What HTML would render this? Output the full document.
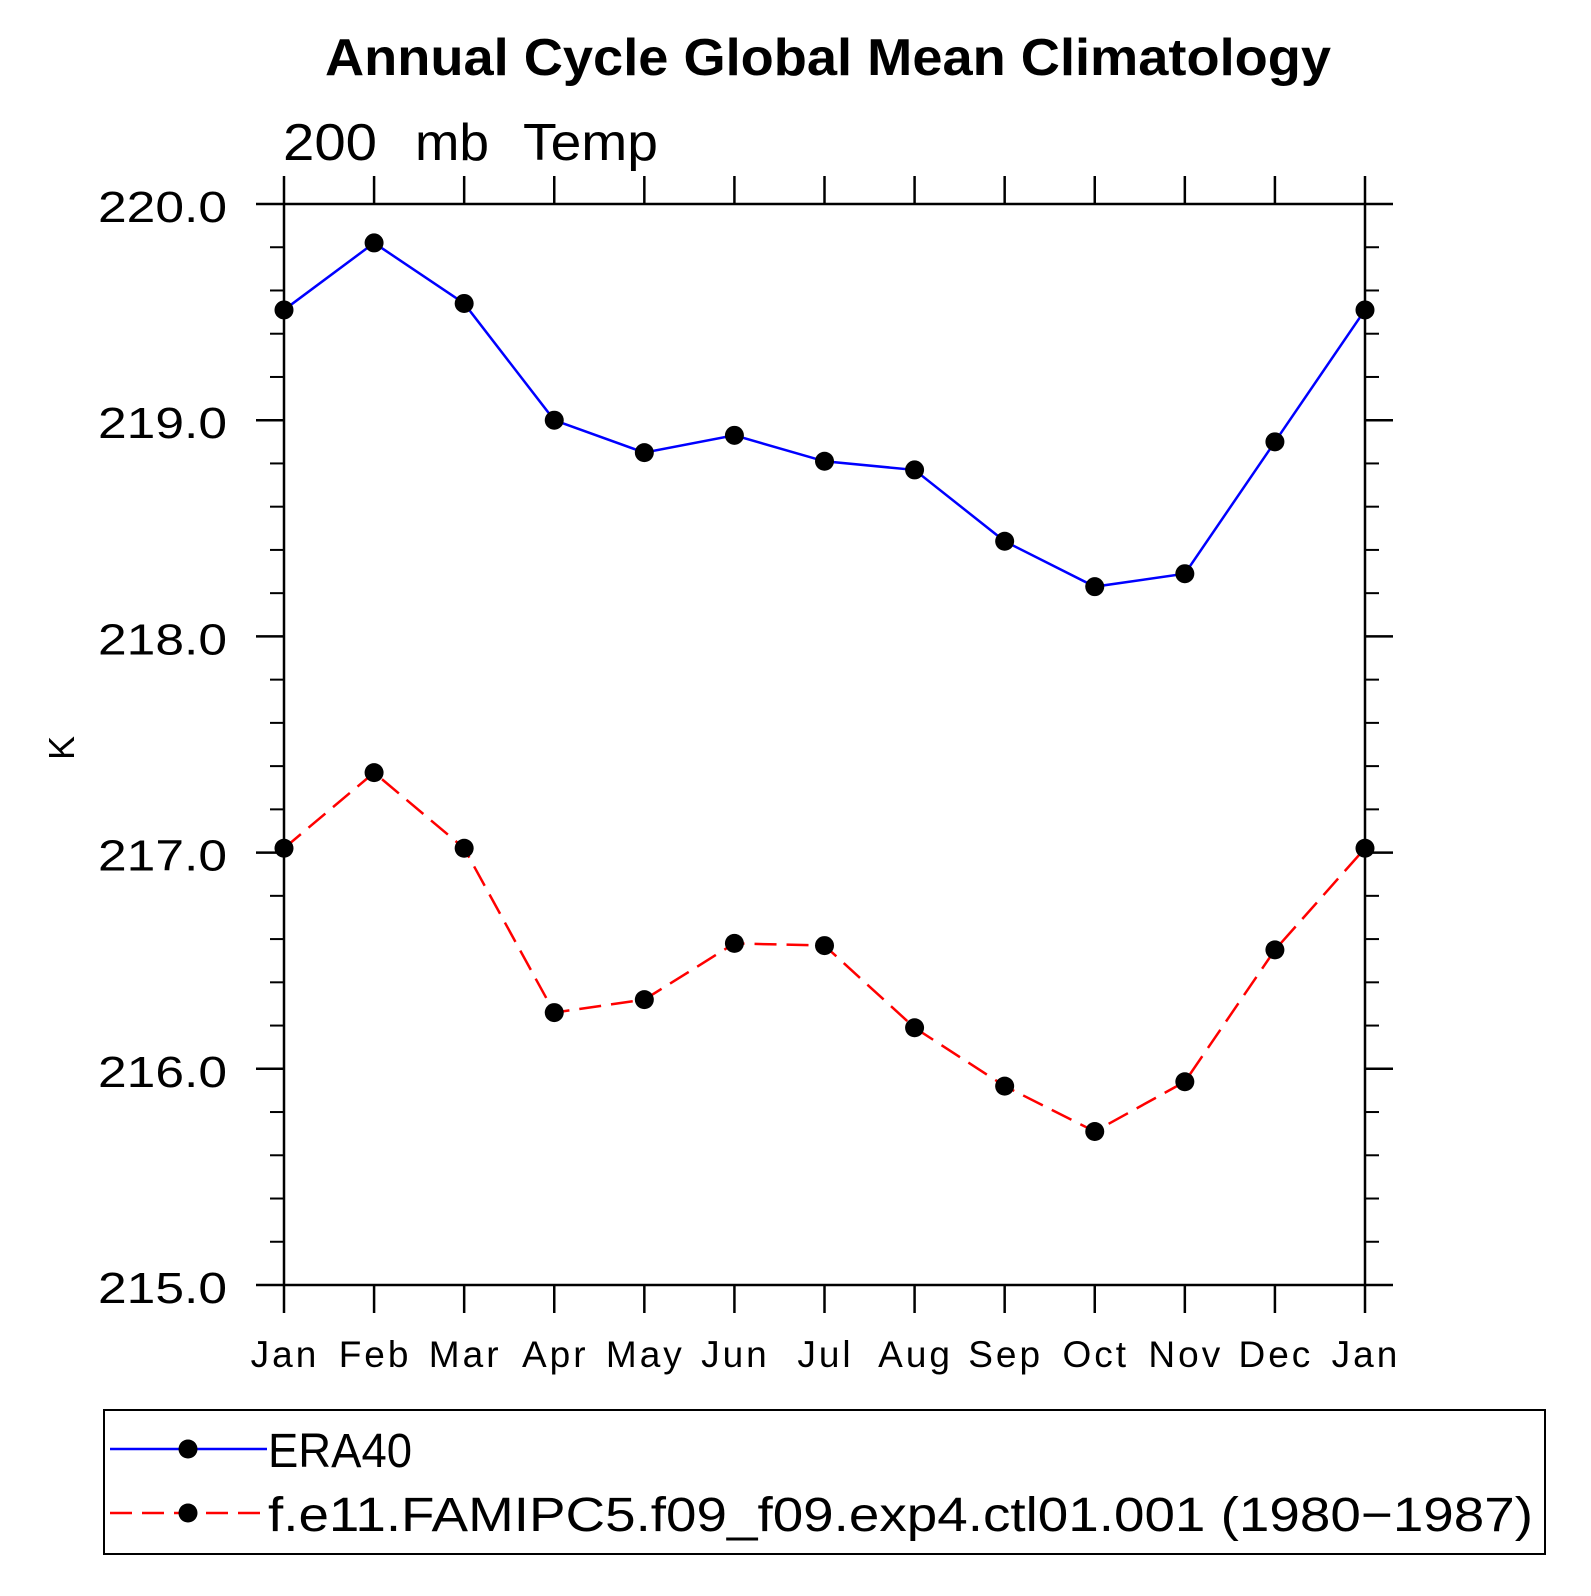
<!DOCTYPE html>
<html><head><meta charset="utf-8"><style>
html,body{margin:0;padding:0;background:#fff;}
svg text{font-family:"Liberation Sans",sans-serif;}
</style></head><body>
<svg id="chart" width="1591" height="1591" viewBox="0 0 1591 1591" xmlns="http://www.w3.org/2000/svg">
<text x="828" y="75" text-anchor="middle" font-size="52" font-weight="bold" textLength="1006" lengthAdjust="spacingAndGlyphs">Annual Cycle Global Mean Climatology</text>
<g font-size="52">
<text x="283" y="160" textLength="94" lengthAdjust="spacingAndGlyphs">200</text>
<text x="415" y="160" textLength="74" lengthAdjust="spacingAndGlyphs">mb</text>
<text x="523" y="160" textLength="135" lengthAdjust="spacingAndGlyphs">Temp</text>
</g>
<text transform="translate(74,748) rotate(-90)" text-anchor="middle" font-size="36">K</text>
<g id="axes"></g>
<g id="series"></g>
<g>
<rect x="104" y="1410" width="1441" height="144" fill="none" stroke="#000" stroke-width="2"/>
<g>
<line x1="110" y1="1449" x2="267" y2="1449" stroke="#00f" stroke-width="2.5"/>
<circle cx="188" cy="1449" r="9.5" fill="#000"/>
<text x="268" y="1467" font-size="48" textLength="144" lengthAdjust="spacingAndGlyphs">ERA40</text>
</g>
<g>
<line x1="110" y1="1513" x2="267" y2="1513" stroke="#f00" stroke-width="2.5" stroke-dasharray="22,10"/>
<circle cx="188" cy="1513" r="9.5" fill="#000"/>
<text x="268" y="1531" font-size="48" textLength="1265" lengthAdjust="spacingAndGlyphs">f.e11.FAMIPC5.f09_f09.exp4.ctl01.001 (1980−1987)</text>
</g>
</g>
</svg>
<script>
const months = ["Jan","Feb","Mar","Apr","May","Jun","Jul","Aug","Sep","Oct","Nov","Dec","Jan"];
const era40 = [219.51,219.82,219.54,219.00,218.85,218.93,218.81,218.77,218.44,218.23,218.29,218.90,219.51];
const model = [217.02,217.37,217.02,216.26,216.32,216.58,216.57,216.19,215.92,215.71,215.94,216.55,217.02];
const yTicks = [215,216,217,218,219,220];
const yTickLabels = ["215.0","216.0","217.0","218.0","219.0","220.0"];

const NS="http://www.w3.org/2000/svg";
const L=284,R=1365,T=204,B=1285,YMIN=215,YMAX=220;
const xs=i=>L+(R-L)*i/(months.length-1);
const ys=v=>B-(B-T)*(v-YMIN)/(YMAX-YMIN);
function mk(tag,attrs,parent){const e=document.createElementNS(NS,tag);for(const k in attrs)e.setAttribute(k,attrs[k]);parent.appendChild(e);return e;}
const axes=document.getElementById('axes');
const frame=mk('rect',{x:L,y:T,width:R-L,height:B-T,fill:'none',stroke:'#000','stroke-width':2.5},axes);


months.forEach((m,i)=>{
  const x=xs(i);
  const t1=mk('line',{x1:x,y1:B,x2:x,y2:B+28,stroke:'#000','stroke-width':2.5},axes);
  
  
  const t2=mk('line',{x1:x,y1:T,x2:x,y2:T-28,stroke:'#000','stroke-width':2.5},axes);
  
  
  const lb=mk('text',{x:x+1,y:1367,'text-anchor':'middle','font-size':37,'letter-spacing':3},axes);
  lb.textContent=m;
  
  
});
yTicks.forEach((v,i)=>{
  const y=ys(v);
  const t1=mk('line',{x1:L-28,y1:y,x2:L,y2:y,stroke:'#000','stroke-width':2.5},axes);
  
  
  const t2=mk('line',{x1:R,y1:y,x2:R+28,y2:y,stroke:'#000','stroke-width':2.5},axes);
  
  
  const lb=mk('text',{x:98,y:y+18,'font-size':44,textLength:129,lengthAdjust:'spacingAndGlyphs'},axes);
  lb.textContent=yTickLabels[i];
  
  
  if(i<yTicks.length-1){
    for(let k=1;k<5;k++){
      const yy=ys(v+k*0.2);
      const m1=mk('line',{x1:L-14,y1:yy,x2:L,y2:yy,stroke:'#000','stroke-width':2},axes);
      
      
      const m2=mk('line',{x1:R,y1:yy,x2:R+14,y2:yy,stroke:'#000','stroke-width':2},axes);
      
      
    }
  }
});
const sg=document.getElementById('series');
function drawSeries(vals,color,dash,name){
  const g=mk('g',{},sg);
  
  
  const pts=vals.map((v,i)=>xs(i)+','+ys(v)).join(' ');
  const pl=mk('polyline',{points:pts,fill:'none',stroke:color,'stroke-width':2.5},g);
  if(dash)pl.setAttribute('stroke-dasharray',dash);
  
  
  vals.forEach((v,i)=>{
    const c=mk('circle',{cx:xs(i),cy:ys(v),r:9.5,fill:'#000'},g);
    
    
  });
}
drawSeries(era40,'#00f',null,'era40-series');
drawSeries(model,'#f00','22,10','model-series');
</script>
</body></html>
